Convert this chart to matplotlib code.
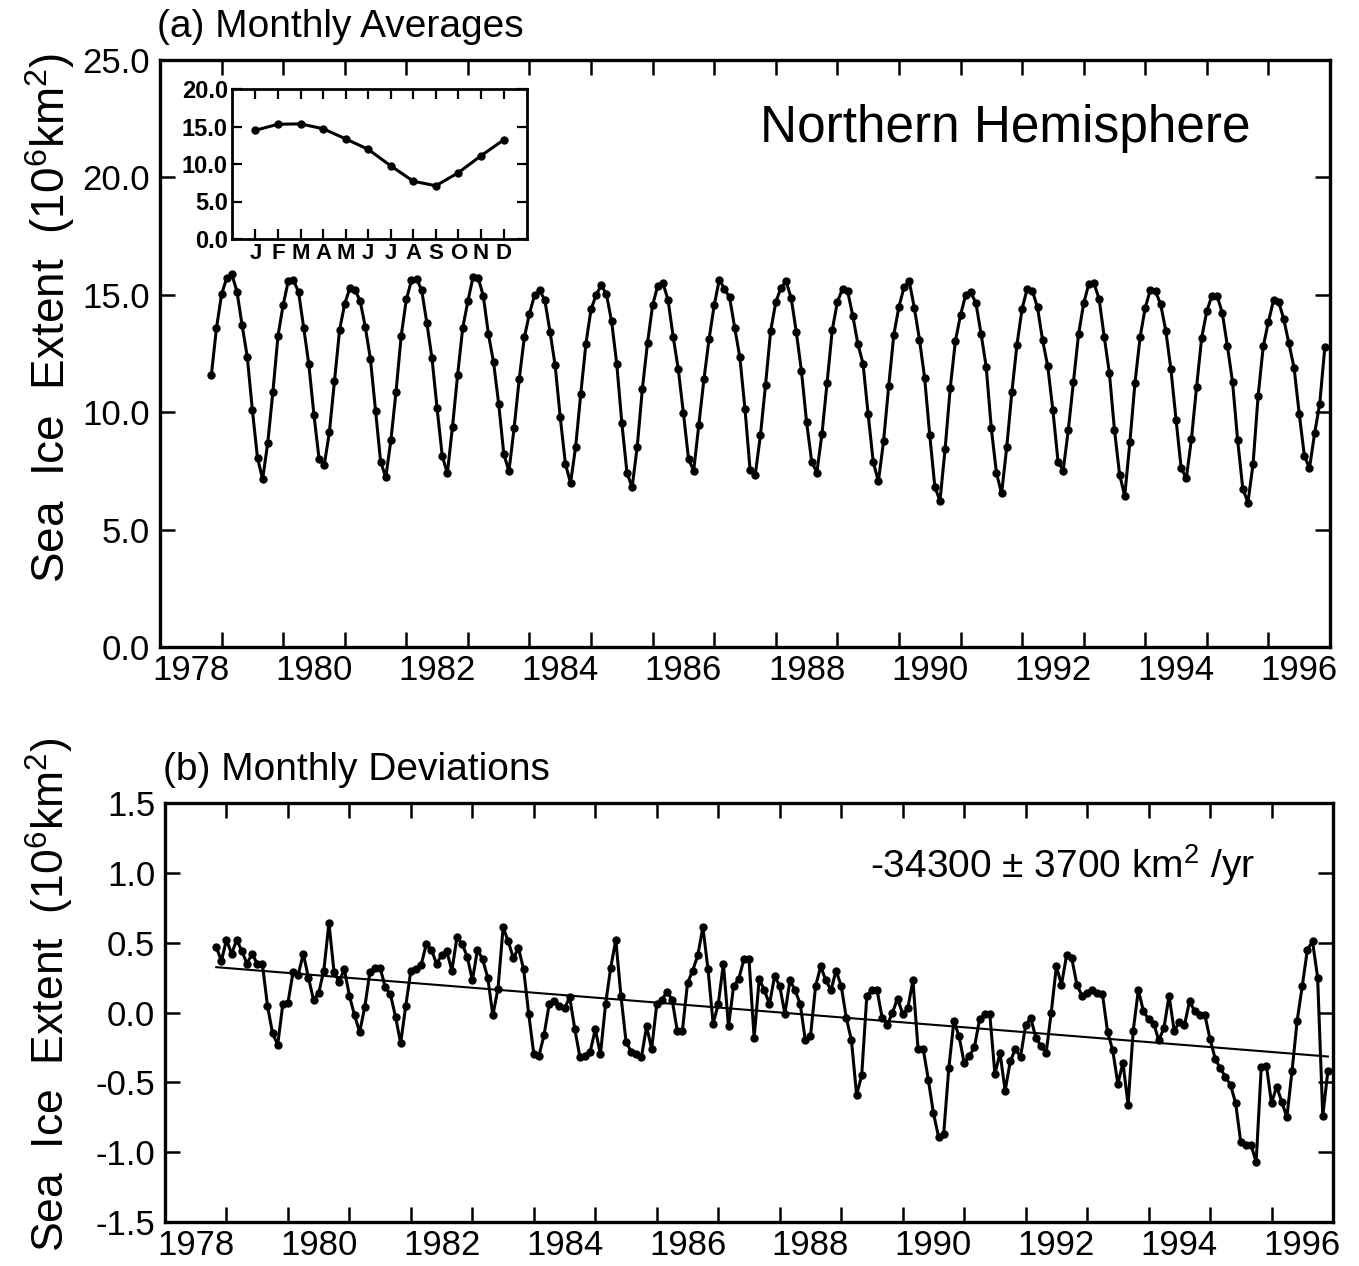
import matplotlib
matplotlib.use("Agg")
import matplotlib.pyplot as plt
import numpy as np

plt.rcParams['font.family'] = ['Liberation Sans', 'DejaVu Sans']
plt.rcParams['mathtext.fontset'] = 'custom'
plt.rcParams['mathtext.rm'] = 'Liberation Sans'
plt.rcParams['mathtext.it'] = 'Liberation Sans'

# Serie mensual: noviembre 1978 a diciembre 1996 (10^6 km^2)
start_year = 1978
start_month = 11

extent = [
    11.57, 13.57,                                                                       # 1978
    15.02, 15.72, 15.87, 15.14, 13.70, 12.37, 10.10, 8.05, 7.15, 8.70, 10.87, 13.26,  # 1979
    14.57, 15.59, 15.62, 15.12, 13.60, 12.04, 9.89, 8.00, 7.74, 9.14, 11.32, 13.51,   # 1980
    14.62, 15.28, 15.21, 14.74, 13.64, 12.27, 10.07, 7.88, 7.23, 8.82, 10.88, 13.25,  # 1981
    14.80, 15.61, 15.69, 15.19, 13.80, 12.30, 10.16, 8.14, 7.40, 9.39, 11.59, 13.60,  # 1982
    14.73, 15.75, 15.73, 14.95, 13.33, 12.12, 10.36, 8.21, 7.49, 9.31, 11.41, 13.19,  # 1983
    14.20, 14.99, 15.19, 14.76, 13.43, 12.00, 9.78, 7.81, 6.98, 8.53, 10.79, 12.92,   # 1984
    14.38, 15.00, 15.41, 15.02, 13.87, 12.07, 9.54, 7.42, 6.80, 8.53, 11.00, 12.94,   # 1985
    14.56, 15.39, 15.50, 14.79, 13.22, 11.82, 9.96, 8.00, 7.51, 9.46, 11.41, 13.12,   # 1986
    14.56, 15.65, 15.25, 14.89, 13.59, 12.33, 10.13, 7.52, 7.34, 9.01, 11.16, 13.46,  # 1987
    14.69, 15.29, 15.58, 14.86, 13.41, 11.75, 9.58, 7.89, 7.43, 9.08, 11.26, 13.50,   # 1988
    14.69, 15.26, 15.15, 14.11, 12.90, 12.07, 9.91, 7.86, 7.06, 8.76, 11.10, 13.30,   # 1989
    14.49, 15.33, 15.58, 14.44, 13.09, 11.47, 9.03, 6.81, 6.23, 8.45, 11.04, 13.03,   # 1990
    14.14, 14.99, 15.10, 14.65, 13.34, 11.94, 9.31, 7.41, 6.54, 8.50, 10.84, 12.88,   # 1991
    14.41, 15.26, 15.17, 14.46, 13.06, 11.95, 10.08, 7.90, 7.51, 9.24, 11.30, 13.32,  # 1992
    14.64, 15.46, 15.49, 14.83, 13.21, 11.68, 9.24, 7.34, 6.44, 8.72, 11.26, 13.21,   # 1993
    14.45, 15.22, 15.15, 14.59, 13.47, 11.82, 9.68, 7.61, 7.18, 8.86, 11.08, 13.18,   # 1994
    14.31, 14.97, 14.95, 14.24, 12.83, 11.30, 8.82, 6.75, 6.15, 7.78, 10.71, 12.82,   # 1995
    13.85, 14.77, 14.71, 13.95, 12.93, 11.89, 9.94, 8.15, 7.61, 9.10, 10.36, 12.78,   # 1996
]

deviation = [
    0.47, 0.37,                                                                        # 1978
    0.52, 0.42, 0.52, 0.44, 0.35, 0.42, 0.35, 0.35, 0.05, -0.15, -0.23, 0.06,         # 1979
    0.07, 0.29, 0.27, 0.42, 0.25, 0.09, 0.14, 0.30, 0.64, 0.29, 0.22, 0.31,           # 1980
    0.12, -0.02, -0.14, 0.04, 0.29, 0.32, 0.32, 0.18, 0.13, -0.03, -0.22, 0.05,       # 1981
    0.30, 0.31, 0.34, 0.49, 0.45, 0.35, 0.41, 0.44, 0.30, 0.54, 0.49, 0.40,           # 1982
    0.23, 0.45, 0.38, 0.25, -0.02, 0.17, 0.61, 0.51, 0.39, 0.46, 0.31, -0.01,         # 1983
    -0.30, -0.31, -0.16, 0.06, 0.08, 0.05, 0.03, 0.11, -0.12, -0.32, -0.31, -0.28,    # 1984
    -0.12, -0.30, 0.06, 0.32, 0.52, 0.12, -0.21, -0.28, -0.30, -0.32, -0.10, -0.26,   # 1985
    0.06, 0.09, 0.15, 0.09, -0.13, -0.13, 0.21, 0.30, 0.41, 0.61, 0.31, -0.08,        # 1986
    0.06, 0.35, -0.10, 0.19, 0.24, 0.38, 0.38, -0.18, 0.24, 0.16, 0.06, 0.26,         # 1987
    0.19, -0.01, 0.23, 0.16, 0.06, -0.20, -0.17, 0.19, 0.33, 0.23, 0.16, 0.30,        # 1988
    0.19, -0.04, -0.20, -0.59, -0.45, 0.12, 0.16, 0.16, -0.04, -0.09, 0.00, 0.10,     # 1989
    -0.01, 0.03, 0.23, -0.26, -0.26, -0.48, -0.72, -0.89, -0.87, -0.40, -0.06, -0.17, # 1990
    -0.36, -0.31, -0.25, -0.05, -0.01, -0.01, -0.44, -0.29, -0.56, -0.35, -0.26, -0.32,  # 1991
    -0.09, -0.04, -0.18, -0.24, -0.29, 0.00, 0.33, 0.20, 0.41, 0.39, 0.20, 0.12,      # 1992
    0.14, 0.16, 0.14, 0.13, -0.14, -0.27, -0.51, -0.36, -0.66, -0.13, 0.16, 0.01,     # 1993
    -0.05, -0.08, -0.20, -0.11, 0.12, -0.13, -0.07, -0.09, 0.08, 0.01, -0.02, -0.02,  # 1994
    -0.19, -0.33, -0.40, -0.46, -0.52, -0.65, -0.93, -0.95, -0.95, -1.07, -0.39, -0.38,  # 1995
    -0.65, -0.53, -0.64, -0.75, -0.42, -0.06, 0.19, 0.45, 0.51, 0.25, -0.74, -0.42,   # 1996
]

# Ciclo estacional medio (recuadro)
clim_months = list(range(1, 13))
clim_labels = ['J', 'F', 'M', 'A', 'M', 'J', 'J', 'A', 'S', 'O', 'N', 'D']
clim_extent = [14.5, 15.3, 15.35, 14.7, 13.35, 11.95, 9.75, 7.7, 7.1, 8.85, 11.1, 13.2]

year_labels = [1978, 1980, 1982, 1984, 1986, 1988, 1990, 1992, 1994, 1996]
trend_text = '-34300 \u00b1 3700 km$^2$ /yr'

n = len(extent)
t = np.array([start_year + (start_month - 1 + k) / 12 for k in range(n)])

W, H = 1359, 1266
fig = plt.figure(figsize=(W / 100, H / 100), dpi=100)

ax1 = fig.add_axes([160 / W, 1 - 647 / H, 1170 / W, 587 / H])
ax2 = fig.add_axes([165 / W, 1 - 1222 / H, 1168 / W, 419 / H])
ins = fig.add_axes([232 / W, 1 - 239 / H, 295 / W, 150 / H])

tkw = dict(direction='in', top=True, right=True, width=1.8)
lbl = 25


def setup_years(ax):
    ax.set_xlim(1978, 1997)
    ax.set_xticks(np.arange(1979, 1997))
    ax.set_xticklabels([])
    ax.set_xticks([y + 0.5 for y in year_labels], minor=True)
    ax.set_xticklabels([str(y) for y in year_labels], minor=True)
    ax.tick_params(axis='x', which='minor', length=0, pad=5, labelsize=lbl)
    ax.tick_params(axis='both', which='major', length=11, labelsize=lbl, **tkw)
    for sp in ax.spines.values():
        sp.set_linewidth(2.4)


# (a) promedios mensuales
ax1.plot(t, extent, color='black', lw=2.2, marker='o', ms=5)
setup_years(ax1)
ax1.set_ylim(0, 25)
ax1.set_yticks(np.arange(0, 26, 5))
ax1.set_yticklabels(['%.1f' % v for v in np.arange(0, 26, 5)])
ax1.tick_params(axis='y', pad=7)
ax1.text(0.513, 0.884, 'Northern Hemisphere', transform=ax1.transAxes,
         fontsize=37, ha='left', va='center')

# recuadro
ins.plot(clim_months, clim_extent, color='black', lw=2.2, marker='o', ms=5)
ins.set_xlim(-0.04, 13.04)
ins.set_ylim(0, 20)
ins.set_xticks(clim_months)
ins.set_xticklabels(clim_labels, fontweight='bold', fontsize=16)
ins.set_yticks(np.arange(0, 21, 5))
ins.set_yticklabels(['%.1f' % v for v in np.arange(0, 21, 5)], fontweight='bold', fontsize=17)
ins.tick_params(axis='both', length=7, pad=3, direction='in', top=True, right=True, width=1.6)
for sp in ins.spines.values():
    sp.set_linewidth(2)

# (b) desviaciones mensuales
ax2.plot(t, deviation, color='black', lw=2.2, marker='o', ms=5)
coef = np.polyfit(t, deviation, 1)
ax2.plot(t[[0, -1]], np.polyval(coef, t[[0, -1]]), color='black', lw=1.5)
setup_years(ax2)
ax2.set_ylim(-1.5, 1.5)
ax2.set_yticks(np.arange(-1.5, 1.6, 0.5))
ax2.set_yticklabels(['%.1f' % v for v in np.arange(-1.5, 1.6, 0.5)])
ax2.tick_params(axis='y', pad=7)
ax2.text(0.604, 0.852, trend_text, transform=ax2.transAxes,
         fontsize=28, ha='left', va='center')

fig.text(157 / W, 1 - 27 / H, '(a) Monthly Averages', fontsize=28, ha='left', va='center')
fig.text(163 / W, 1 - 770 / H, '(b) Monthly Deviations', fontsize=28, ha='left', va='center')

ylab = r'Sea  Ice  Extent  (10$^6$km$^2$)'
fig.text(50 / W, 1 - 318 / H, ylab, rotation=90, fontsize=33, ha='center', va='center')
fig.text(50 / W, 1 - 995 / H, ylab, rotation=90, fontsize=32, ha='center', va='center')

fig.savefig('out.png', dpi=100)
